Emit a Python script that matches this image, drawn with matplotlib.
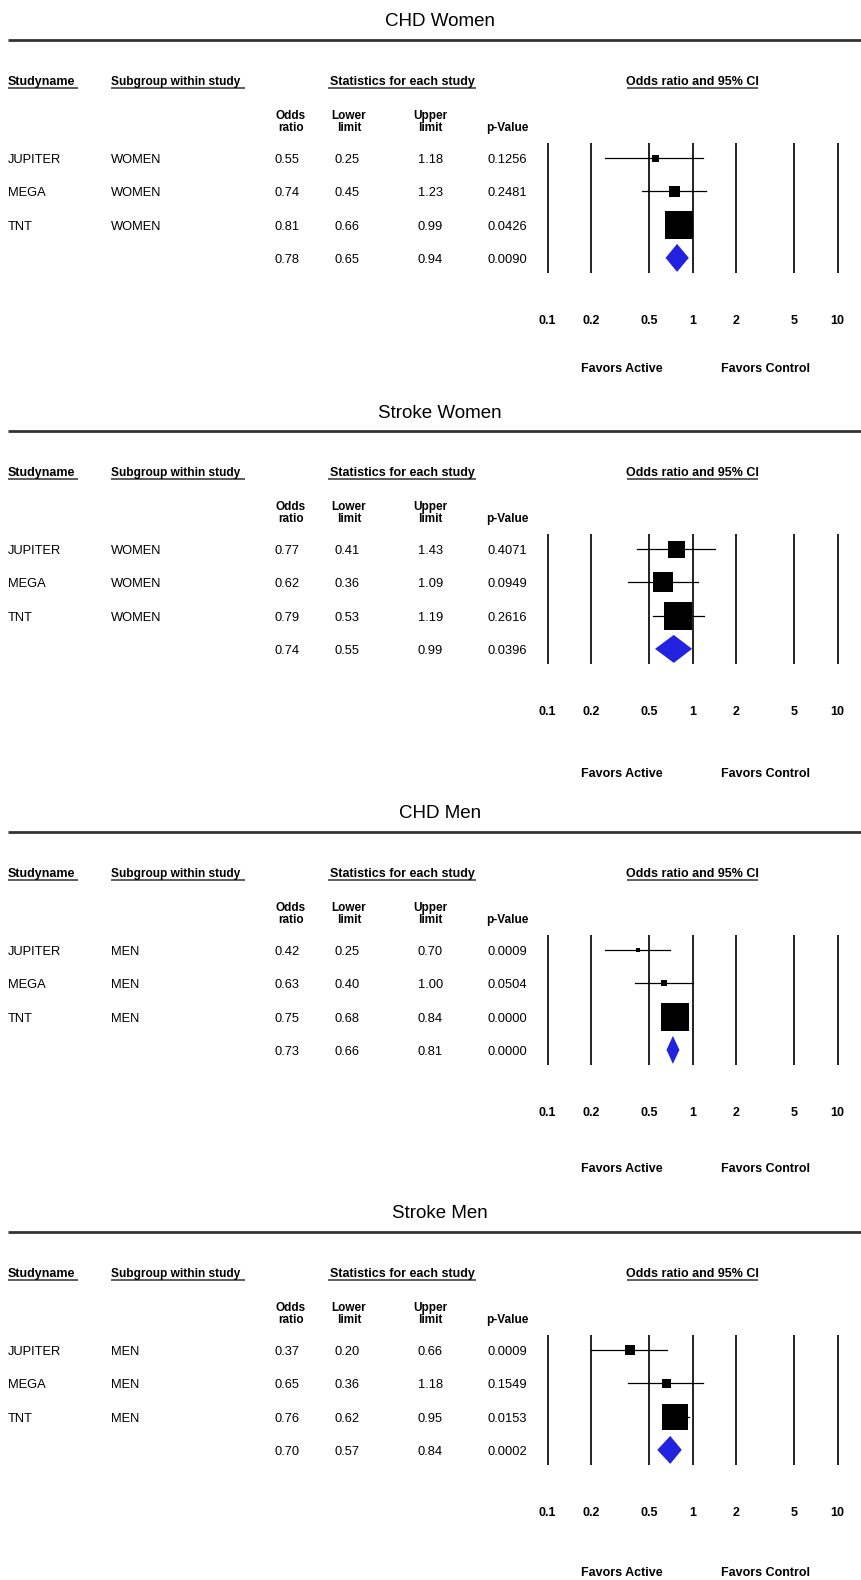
import numpy as np
import matplotlib
matplotlib.use('Agg')
import matplotlib.pyplot as plt
from matplotlib.patches import Polygon

# data
titles = ['CHD Women', 'Stroke Women', 'CHD Men', 'Stroke Men']
studies = ['JUPITER', 'MEGA', 'TNT']
subgroups = ['WOMEN', 'WOMEN', 'MEN', 'MEN']
# last entry in each row is the pooled (summary) estimate
odds_ratio = [[0.55, 0.74, 0.81, 0.78],
              [0.77, 0.62, 0.79, 0.74],
              [0.42, 0.63, 0.75, 0.73],
              [0.37, 0.65, 0.76, 0.70]]
lower_limit = [[0.25, 0.45, 0.66, 0.65],
               [0.41, 0.36, 0.53, 0.55],
               [0.25, 0.40, 0.68, 0.66],
               [0.20, 0.36, 0.62, 0.57]]
upper_limit = [[1.18, 1.23, 0.99, 0.94],
               [1.43, 1.09, 1.19, 0.99],
               [0.70, 1.00, 0.84, 0.81],
               [0.66, 1.18, 0.95, 0.84]]
p_value = [[0.1256, 0.2481, 0.0426, 0.0090],
           [0.4071, 0.0949, 0.2616, 0.0396],
           [0.0009, 0.0504, 0.0000, 0.0000],
           [0.0009, 0.1549, 0.0153, 0.0002]]
# relative study weight (drives box size)
rel_weight = [[7, 11, 28],
              [17, 20, 28],
              [5, 6, 28],
              [10, 9, 27]]
axis_ticks = [0.1, 0.2, 0.5, 1, 2, 5, 10]
tick_labels = ['0.1', '0.2', '0.5', '1', '2', '5', '10']

# layout (pixels)
W, H = 862, 1580
panel_top = [0, 391, 792, 1192]
favors_y = [369, 383, 377, 1573 - 1192]
row0, row_step = 158, 33.3
px_decade = 145.0
x_one = 692.7

narrow = ['Liberation Sans Narrow', 'Liberation Sans', 'DejaVu Sans']
plain = ['Liberation Sans', 'DejaVu Sans']
line_col = '#222222'

fig = plt.figure(figsize=(W / 100, H / 100), dpi=100)
bg = fig.add_axes([0, 0, 1, 1])
bg.set_xlim(0, W)
bg.set_ylim(H, 0)
bg.axis('off')

def txt(x, y, s, **kw):
    kw.setdefault('family', narrow)
    kw.setdefault('fontsize', 9.3)
    kw.setdefault('va', 'center')
    bg.text(x, y, s, **kw)

def uline(x0, x1, y):
    bg.plot([x0, x1], [y, y], color='#333333', lw=1.1, solid_capstyle='butt')

for p in range(4):
    t = panel_top[p]
    txt(440, t + 22, titles[p], family=plain, fontsize=13.5, ha='center')
    bg.plot([8, W], [t + 40, t + 40], color='#333333', lw=2.0, solid_capstyle='butt')

    # section headers
    txt(8, t + 82, 'Studyname', fontweight='bold', fontsize=9)
    uline(8, 78, t + 88)
    txt(111, t + 82, 'Subgroup within study', fontweight='bold', fontsize=8.6)
    uline(111, 245, t + 88)
    txt(402, t + 82, 'Statistics for each study', fontweight='bold', fontsize=9, ha='center')
    uline(328, 476, t + 88)
    txt(692, t + 82, 'Odds ratio and 95% CI', fontweight='bold', fontsize=9, ha='center')
    uline(627, 758, t + 88)

    # column headers
    for cx, lab in [(291, 'Odds\nratio'), (349, 'Lower\nlimit'), (430, 'Upper\nlimit'),
                    (507, 'p-Value')]:
        txt(cx, t + 134, lab, fontweight='bold', fontsize=8.5, ha='center', va='bottom',
            linespacing=0.95)

    # table rows
    for i in range(4):
        y = t + row0 + 2 + row_step * i
        if i < 3:
            txt(8, y, studies[i])
            txt(111, y, subgroups[p])
        txt(300, y, '%.2f' % odds_ratio[p][i], ha='right')
        txt(360, y, '%.2f' % lower_limit[p][i], ha='right')
        txt(443, y, '%.2f' % upper_limit[p][i], ha='right')
        txt(527, y, '%.4f' % p_value[p][i], ha='right')

    # forest axes: log scale, rows as y units
    lo_dec, hi_dec = -1.1, 1.1
    left = x_one + lo_dec * px_decade
    width = (hi_dec - lo_dec) * px_decade
    y_top = t + row0 - 0.6 * row_step
    height = 4.2 * row_step
    ax = fig.add_axes([left / W, 1 - (y_top + height) / H, width / W, height / H])
    ax.set_xscale('log')
    ax.set_xlim(10 ** lo_dec, 10 ** hi_dec)
    ax.set_ylim(3.6, -0.6)
    ax.axis('off')

    ax.vlines(axis_ticks, -0.45, 3.45, color=line_col, lw=1.4, zorder=1)
    for i in range(3):
        ax.plot([lower_limit[p][i], upper_limit[p][i]], [i, i], color='black', lw=0.9, zorder=2)
        ax.plot(odds_ratio[p][i], i, marker='s', color='black', ms=rel_weight[p][i] * 0.72,
                mew=0, zorder=3)
    lo, mid, hi = lower_limit[p][3], odds_ratio[p][3], upper_limit[p][3]
    ax.add_patch(Polygon([(lo, 3), (mid, 2.58), (hi, 3), (mid, 3.42)], closed=True,
                         facecolor='#2222e0', edgecolor='none', zorder=3))
    for xv, lab in zip(axis_ticks, tick_labels):
        ax.text(xv, 4.9, lab, ha='center', va='center', fontweight='bold', fontsize=9,
                family=narrow, clip_on=False)

    txt(622, t + favors_y[p], 'Favors Active', fontweight='bold', fontsize=9, ha='center')
    txt(766, t + favors_y[p], 'Favors Control', fontweight='bold', fontsize=9, ha='center')

fig.savefig('out.png', dpi=100, facecolor='white')
